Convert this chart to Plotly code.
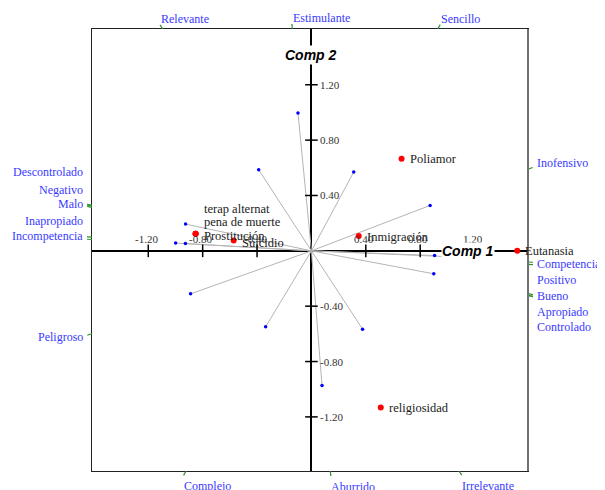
import math
import plotly.graph_objects as go

# supplementary items (red points)
item_names = ["Poliamor", "Inmigración", "Eutanasia", "religiosidad",
              "Prostitución", "Suicidio", "terap alternat", "pena de muerte"]
item_x = [0.663, 0.348, 1.514, 0.51, -0.852, -0.572, -0.852, -0.852]
item_y = [0.665, 0.108, 0.0, -1.133, 0.123, 0.074, 0.123, 0.123]

# variable loadings (blue points)
load_x = [-0.099, 0.311, 0.873, 0.906, 0.974, 0.90, 0.376, 0.078,
          -0.337, -0.889, -0.999, -0.926, -0.927, -0.388]
load_y = [0.996, 0.569, 0.328, -0.034, -0.041, -0.166, -0.566, -0.974,
          -0.549, -0.311, 0.056, 0.193, 0.053, 0.586]

# bipolar scales: positive pole, negative pole, direction of the positive pole (deg)
pole_pos = ["Relevante", "Estimulante", "Sencillo", "Inofensivo", "Competencia",
            "Bueno", "Positivo", "Apropiado", "Controlado"]
pole_neg = ["Irrelevante", "Aburrido", "Complejo", "Peligroso", "Incompetencia",
            "Malo", "Negativo", "Inapropiado", "Descontrolado"]
pole_angle = [124.3, 95.0, 59.9, 20.3, -2.9, -11.4, -3.5, -11.0, -11.5]

tick_vals = [-1.2, -0.8, -0.4, 0.4, 0.8, 1.2]

# layout constants (page has an 8px body margin)
XR = [-1.614, 1.593]
YR = [-1.591, 1.603]
W, H = 597, 482
M = dict(l=84, r=77, t=21, b=19)
PW, PH = W - M["l"] - M["r"], H - M["t"] - M["b"]
SX = PW / (XR[1] - XR[0])
SY = PH / (YR[1] - YR[0])
SERIF = "Liberation Serif"
BLUE_TXT = "#3a3aff"
GREEN = "#2f8f2f"

# vertical nudges (px) for stacked pole labels
label_nudge = {"Descontrolado": 32, "Negativo": 47, "Malo": 1, "Inapropiado": -15,
               "Incompetencia": 3, "Competencia": -2, "Positivo": -15, "Bueno": 0,
               "Apropiado": -17, "Controlado": -30, "Inofensivo": 5, "Peligroso": -2}

fig = go.Figure()

# loading vectors
lx, ly = [], []
for x, y in zip(load_x, load_y):
    lx += [0, x, None]
    ly += [0, y, None]
fig.add_trace(go.Scatter(x=lx, y=ly, mode="lines", line=dict(color="#b4b4b4", width=1),
                         hoverinfo="skip"))
fig.add_trace(go.Scatter(x=load_x, y=load_y, mode="markers",
                         marker=dict(color="#0000ff", size=3.5)))

# axis tick marks
fig.add_trace(go.Scatter(x=tick_vals, y=[0] * len(tick_vals), mode="markers",
                         marker=dict(symbol="line-ns-open", size=9, color="black",
                                     line=dict(color="black", width=1.5))))
fig.add_trace(go.Scatter(x=[0] * len(tick_vals), y=tick_vals, mode="markers",
                         marker=dict(symbol="line-ew-open", size=9, color="black",
                                     line=dict(color="black", width=1.5))))

# supplementary points
fig.add_trace(go.Scatter(x=item_x, y=item_y, mode="markers",
                         marker=dict(color="#ff0000", size=6)))

ann = []
item_nudge = {"terap alternat": 25, "pena de muerte": 12, "Prostitución": -2,
              "Suicidio": -2, "Inmigración": -1}
for n, x, y in zip(item_names, item_x, item_y):
    ann.append(dict(x=x, y=y, text=n, showarrow=False, xanchor="left", xshift=6,
                    yshift=item_nudge.get(n, 0),
                    font=dict(family=SERIF, size=12.5, color="#222")))

for v in tick_vals:
    lab = "%.2f" % v
    ann.append(dict(x=v, y=0, text=lab, showarrow=False, yanchor="bottom", yshift=4,
                    xshift=-2, font=dict(family=SERIF, size=11, color="#333")))
    ann.append(dict(x=0, y=v, text=lab, showarrow=False, xanchor="left", xshift=7,
                    font=dict(family=SERIF, size=11, color="#333")))

ann.append(dict(x=1.155, y=0, text="<b><i>Comp 1</i></b>", showarrow=False,
                bgcolor="white", borderpad=0,
                font=dict(family="Liberation Sans", size=14, color="black")))
ann.append(dict(x=0, y=1.417, text="<b><i>Comp 2</i></b>", showarrow=False,
                bgcolor="white", borderpad=1,
                font=dict(family="Liberation Sans", size=14, color="black")))

# pole labels on the frame
shapes = []


def border_point(a):
    c, s = math.cos(math.radians(a)), math.sin(math.radians(a))
    ts = []
    if c > 1e-9:
        ts.append((XR[1] / c, "right"))
    if c < -1e-9:
        ts.append((XR[0] / c, "left"))
    if s > 1e-9:
        ts.append((YR[1] / s, "top"))
    if s < -1e-9:
        ts.append((YR[0] / s, "bottom"))
    t, side = min(ts)
    return t * c, t * s, side


def to_paper(x, y):
    return (x - XR[0]) / (XR[1] - XR[0]), (y - YR[0]) / (YR[1] - YR[0])


for names, offs in ((pole_pos, 0), (pole_neg, 180)):
    for n, a in zip(names, pole_angle):
        bx, by, side = border_point(a + offs)
        # pixel direction for the small green tick
        dx, dy = bx * SX, by * SY
        d = math.hypot(dx, dy)
        ex, ey = bx + 5 * dx / d / SX, by + 5 * dy / d / SY
        p0, p1 = to_paper(bx, by), to_paper(ex, ey)
        shapes.append(dict(type="line", xref="paper", yref="paper",
                           x0=p0[0], y0=p0[1], x1=p1[0], y1=p1[1],
                           line=dict(color=GREEN, width=1.2)))
        a_kw = dict(x=p1[0], y=p1[1], xref="paper", yref="paper", text=n,
                    showarrow=False, font=dict(family=SERIF, size=12, color=BLUE_TXT))
        if side == "top":
            a_kw.update(xanchor="left", yanchor="bottom", yshift=-3, xshift=-1)
        elif side == "bottom":
            a_kw.update(xanchor="left", yanchor="top", yshift=-2, xshift=-2)
        elif side == "left":
            a_kw.update(xanchor="right", yanchor="middle", xshift=-2,
                        yshift=label_nudge.get(n, 0))
        else:
            a_kw.update(xanchor="left", yanchor="middle", xshift=2,
                        yshift=label_nudge.get(n, 0))
        ann.append(a_kw)

# heavier right edge of the frame
shapes.append(dict(type="line", xref="paper", yref="paper", x0=1, x1=1, y0=0, y1=1,
                   line=dict(color="#707070", width=2)))

ax = dict(showgrid=False, showticklabels=False, ticks="", zeroline=True,
          zerolinecolor="black", zerolinewidth=1.5, showline=True, mirror=True,
          linecolor="#222", linewidth=1)
fig.update_layout(
    width=W, height=H, margin=M, showlegend=False,
    paper_bgcolor="white", plot_bgcolor="white",
    xaxis=dict(range=XR, **ax), yaxis=dict(range=YR, **ax),
    annotations=ann, shapes=shapes,
)
fig.write_html("out.html")
